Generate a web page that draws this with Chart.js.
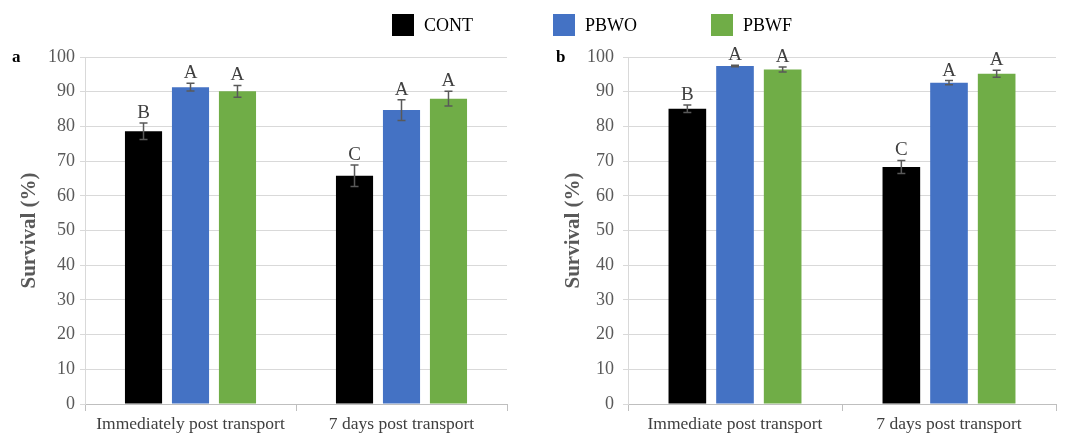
<!DOCTYPE html>
<html>
<head>
<meta charset="utf-8">
<script src="https://cdn.jsdelivr.net/npm/chart.js@4"></script>
<style>
  html, body { margin: 0; padding: 0; background: #fff; }
  body { width: 1072px; height: 436px; position: relative; overflow: hidden; font-family: "Liberation Serif", "Times New Roman", serif; }
  .panel { position: absolute; top: 0; width: 536px; height: 436px; }
  .tag { position: absolute; top: 47px; font-weight: bold; font-size: 17px; color: #000; }
  .legend-item { position: absolute; top: 14px; height: 22px; line-height: 22px; font-size: 18px; color: #000; }
  .legend-item span.box { position: absolute; left: 0; top: 0; width: 22px; height: 22px; }
  .legend-item span.lbl { position: absolute; left: 32px; top: 0; white-space: nowrap; }
</style>
</head>
<body>
<div class="panel" style="left:0"><canvas id="chartA"></canvas></div>
<div class="panel" style="left:536px"><canvas id="chartB"></canvas></div>
<div class="tag" style="left:12px">a</div>
<div class="tag" style="left:556px">b</div>
<div class="legend-item" style="left:392px"><span class="box" style="background:#000000"></span><span class="lbl">CONT</span></div>
<div class="legend-item" style="left:553px"><span class="box" style="background:#4472C4"></span><span class="lbl">PBWO</span></div>
<div class="legend-item" style="left:711px"><span class="box" style="background:#70AD47"></span><span class="lbl">PBWF</span></div>
<script>
// Categories
const categoriesA = ['Immediately post transport', '7 days post transport'];
const categoriesB = ['Immediate post transport', '7 days post transport'];
const seriesNames = ['CONT', 'PBWO', 'PBWF'];
const seriesColors = ['#000000', '#4472C4', '#70AD47'];

// Panel a values, errors and letters
const contA = [78.6, 65.8];
const pbwoA = [91.3, 84.7];
const pbwfA = [90.1, 88.0];
const contErrA = [2.4, 3.1];
const pbwoErrA = [1.1, 3.0];
const pbwfErrA = [1.7, 2.1];
const contSigA = ['B', 'C'];
const pbwoSigA = ['A', 'A'];
const pbwfSigA = ['A', 'A'];

// Panel b values, errors and letters
const contB = [85.1, 68.3];
const pbwoB = [97.4, 92.6];
const pbwfB = [96.4, 95.2];
const contErrB = [1.1, 1.9];
const pbwoErrB = [0.2, 0.6];
const pbwfErrB = [0.7, 1.0];
const contSigB = ['B', 'C'];
const pbwoSigB = ['A', 'A'];
const pbwfSigB = ['A', 'A'];

const yTicks = [0, 10, 20, 30, 40, 50, 60, 70, 80, 90, 100];

const serif = '"Liberation Serif", "Times New Roman", serif';

// Draws error bars and significance letters on top of each bar
const errorBarPlugin = {
    id: 'errorBars',
    afterDatasetsDraw(chart) {
        const ctx = chart.ctx;
        const yScale = chart.scales.y;
        chart.data.datasets.forEach(function(ds, i) {
            const meta = chart.getDatasetMeta(i);
            meta.data.forEach(function(bar, j) {
                const v = ds.data[j];
                const e = ds.errors[j];
                const yHi = yScale.getPixelForValue(v + e);
                const yLo = yScale.getPixelForValue(v - e);
                const x = bar.x;
                ctx.save();
                ctx.strokeStyle = '#595959';
                ctx.lineWidth = 1.5;
                ctx.beginPath();
                ctx.moveTo(x, yHi); ctx.lineTo(x, yLo);
                ctx.moveTo(x - 4, yHi); ctx.lineTo(x + 4, yHi);
                ctx.moveTo(x - 4, yLo); ctx.lineTo(x + 4, yLo);
                ctx.stroke();
                ctx.fillStyle = '#404040';
                ctx.font = '19px ' + serif;
                ctx.textAlign = 'center';
                ctx.textBaseline = 'bottom';
                ctx.fillText(ds.letters[j], x, yHi - 0.5);
                ctx.restore();
            });
        });
    }
};

function makeChart(id, labels, values, errors, letters, axisWidth, tickPad, titlePad, padRight) {
    const datasets = seriesNames.map(function(name, i) {
        return {
            label: name,
            data: values[i],
            errors: errors[i],
            letters: letters[i],
            backgroundColor: seriesColors[i],
            categoryPercentage: 0.668,
            barPercentage: 0.79
        };
    });
    return new Chart(document.getElementById(id), {
        type: 'bar',
        data: { labels: labels, datasets: datasets },
        plugins: [errorBarPlugin],
        options: {
            responsive: false,
            animation: false,
            events: [],
            layout: { padding: { top: 57, right: padRight, bottom: 0, left: 0 } },
            plugins: { legend: { display: false }, tooltip: { enabled: false } },
            scales: {
                x: {
                    grid: { drawOnChartArea: false, tickLength: 7, color: '#bfbfbf', offset: true },
                    border: { color: '#bfbfbf' },
                    ticks: { color: '#404040', font: { family: serif, size: 17.5 }, padding: 3 },
                    afterFit: function(scale) { scale.height = 32; }
                },
                y: {
                    min: 0,
                    max: 100,
                    afterBuildTicks: function(scale) { scale.ticks = yTicks.map(function(v) { return { value: v }; }); },
                    grid: { color: '#d9d9d9', tickLength: 5 },
                    border: { color: '#d9d9d9' },
                    ticks: { color: '#595959', font: { family: serif, size: 18 }, padding: tickPad },
                    title: {
                        display: true,
                        text: 'Survival (%)',
                        color: '#595959',
                        font: { family: serif, size: 21, weight: 'bold' },
                        padding: { top: titlePad, bottom: 0 }
                    },
                    afterFit: function(scale) { scale.width = axisWidth; }
                }
            }
        }
    });
}

document.getElementById('chartA').width = 536;
document.getElementById('chartA').height = 436;
document.getElementById('chartB').width = 536;
document.getElementById('chartB').height = 436;

makeChart('chartA', categoriesA,
    [contA, pbwoA, pbwfA], [contErrA, pbwoErrA, pbwfErrA], [contSigA, pbwoSigA, pbwfSigA],
    85, 5, 17, 29);
makeChart('chartB', categoriesB,
    [contB, pbwoB, pbwfB], [contErrB, pbwoErrB, pbwfErrB], [contSigB, pbwoSigB, pbwfSigB],
    92, 9, 25, 16);
</script>
</body>
</html>
